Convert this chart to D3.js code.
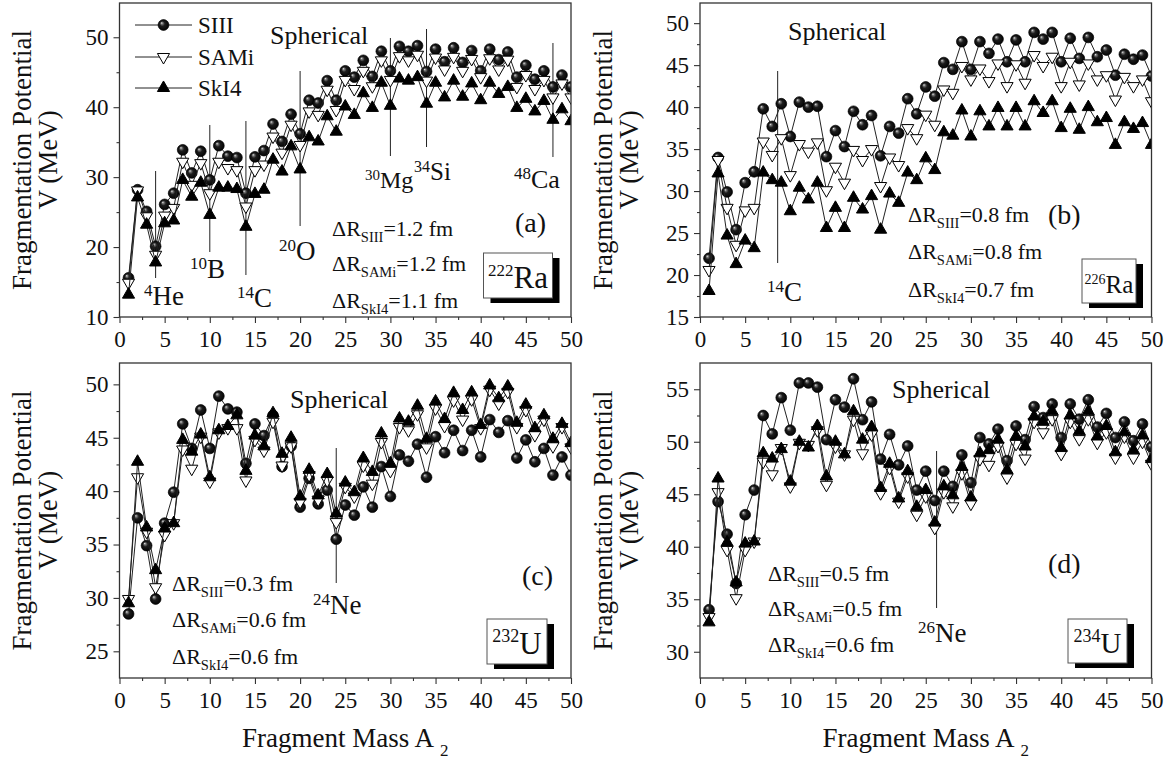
<!DOCTYPE html>
<html>
<head>
<meta charset="utf-8">
<script src="https://cdn.jsdelivr.net/npm/d3@7/dist/d3.min.js"></script>
<style>
  body { margin: 0; background: #fff; }
  text { font-family: "Liberation Serif", "Times New Roman", serif; fill: #111; }
</style>
</head>
<body>
<script>
/* DATA: fragmentation potential V (MeV) vs fragment mass A2 = 1..50 */
var masses = d3.range(1, 51);

// 222Ra
var siiiA = [15.6, 28.2, 25.1, 20.1, 26.1, 27.7, 33.9, 30.6, 33.7, 29.6, 34.5, 33.0, 32.8, 27.7, 32.9, 33.8, 37.6, 35.1, 39.0, 36.2, 41.0, 40.6, 43.8, 41.0, 45.2, 44.3, 46.7, 44.4, 48.0, 45.2, 48.7, 48.0, 48.8, 45.1, 48.3, 46.5, 48.5, 46.4, 48.1, 45.2, 48.3, 46.8, 47.9, 44.3, 46.0, 44.0, 45.2, 42.9, 44.6, 42.9];
var samiA = [14.9, 28.1, 24.4, 18.9, 24.5, 25.6, 32.2, 28.9, 32.0, 27.7, 32.2, 31.3, 31.0, 25.8, 31.0, 31.8, 35.8, 33.5, 37.5, 34.6, 39.4, 38.9, 42.5, 39.6, 43.9, 42.6, 45.2, 43.0, 46.7, 43.9, 47.3, 46.7, 47.5, 43.8, 47.1, 45.4, 47.2, 45.2, 46.9, 44.3, 47.0, 45.4, 46.8, 42.9, 44.6, 42.6, 43.9, 41.4, 43.4, 41.4];
var ski4A = [13.2, 27.1, 23.2, 17.8, 23.4, 23.8, 29.6, 27.2, 29.2, 24.6, 28.5, 28.5, 28.3, 22.9, 27.6, 28.2, 32.5, 30.8, 34.4, 31.1, 35.7, 35.1, 38.7, 36.5, 40.1, 38.9, 42.0, 39.9, 43.5, 40.2, 44.1, 43.8, 44.3, 40.5, 43.5, 41.4, 43.8, 41.5, 43.4, 41.0, 43.5, 41.9, 42.9, 39.9, 41.2, 39.4, 40.9, 38.2, 39.7, 38.0];

// 226Ra
var siiiB = [22.0, 34.0, 29.9, 25.4, 31.0, 32.3, 39.8, 37.7, 40.4, 36.5, 40.6, 40.0, 40.1, 34.1, 37.2, 35.3, 39.5, 37.9, 39.0, 34.2, 37.7, 36.9, 41.0, 39.2, 42.4, 41.3, 45.3, 44.5, 47.8, 44.5, 47.8, 46.4, 48.1, 45.4, 48.0, 45.4, 48.9, 48.1, 48.9, 45.4, 48.2, 45.8, 48.3, 46.0, 46.8, 43.8, 46.3, 45.7, 46.2, 43.7];
var samiB = [20.6, 33.7, 28.0, 23.6, 27.7, 28.0, 35.9, 34.3, 36.3, 31.9, 35.6, 34.7, 35.8, 30.1, 32.9, 31.0, 34.9, 33.7, 35.0, 30.6, 34.0, 33.1, 37.5, 36.3, 39.1, 37.9, 42.1, 41.7, 44.9, 43.3, 44.6, 43.1, 45.2, 42.5, 45.1, 42.9, 46.2, 44.9, 46.0, 42.5, 45.4, 42.7, 45.2, 43.3, 43.8, 40.9, 43.6, 42.5, 43.3, 40.7];
var ski4B = [18.1, 32.1, 24.7, 21.3, 24.1, 23.2, 32.2, 31.3, 31.0, 27.6, 30.4, 29.0, 31.0, 25.6, 28.0, 25.6, 29.2, 27.8, 29.4, 25.4, 29.7, 28.6, 32.2, 31.3, 33.9, 32.5, 37.0, 36.6, 39.6, 36.5, 39.5, 37.7, 39.9, 37.7, 39.9, 37.7, 40.7, 39.3, 40.7, 37.5, 39.8, 37.3, 40.0, 38.2, 38.7, 35.5, 38.2, 37.4, 38.1, 35.5];

// 232U
var siiiC = [28.5, 37.5, 34.9, 29.9, 37.0, 39.9, 46.3, 44.0, 47.6, 44.0, 48.9, 47.7, 47.4, 42.6, 46.3, 45.2, 47.1, 42.3, 44.2, 38.5, 41.2, 38.8, 40.1, 35.5, 38.7, 37.75, 40.4, 38.5, 42.3, 39.5, 43.4, 42.8, 44.4, 41.3, 45.1, 43.6, 45.7, 43.8, 45.7, 43.2, 46.7, 45.5, 46.6, 43.1, 44.8, 42.75, 44.0, 41.5, 43.2, 41.5];
var samiC = [29.9, 41.3, 36.2, 31.0, 35.9, 37.0, 43.9, 42.1, 45.1, 40.9, 45.5, 45.9, 45.9, 41.0, 44.8, 43.8, 46.5, 42.4, 44.2, 39.0, 41.5, 39.2, 41.0, 37.1, 40.4, 39.5, 42.4, 40.7, 44.6, 41.9, 46.0, 45.7, 47.2, 44.1, 47.75, 46.1, 48.5, 46.7, 48.6, 45.9, 49.5, 48.2, 49.3, 46.0, 47.6, 45.25, 46.7, 44.2, 46.0, 44.1];
var ski4C = [29.5, 42.75, 36.6, 32.6, 36.5, 37.0, 44.8, 43.7, 45.3, 41.3, 45.7, 46.1, 47.1, 41.9, 45.2, 44.2, 47.3, 43.5, 45.0, 39.5, 42.0, 39.6, 41.6, 37.9, 40.8, 39.9, 43.1, 41.8, 45.4, 42.6, 46.8, 46.5, 48.0, 44.9, 48.4, 46.75, 49.2, 47.6, 49.25, 46.2, 49.9, 48.7, 49.8, 46.4, 48.1, 45.9, 47.1, 44.9, 46.3, 44.5];

// 234U
var siiiD = [34.0, 44.3, 41.2, 36.5, 43.05, 45.4, 52.5, 50.75, 54.2, 51.1, 55.6, 55.6, 55.2, 50.2, 54.0, 53.3, 56.0, 52.1, 53.8, 48.35, 50.7, 47.8, 49.6, 45.4, 47.2, 44.4, 47.2, 45.75, 48.75, 46.1, 50.4, 49.8, 51.2, 48.2, 51.5, 50.2, 53.35, 52.3, 53.6, 50.4, 53.6, 52.15, 54.0, 51.4, 52.7, 50.4, 51.9, 50.1, 51.7, 49.5];
var samiD = [33.3, 45.2, 39.7, 35.1, 39.7, 40.5, 48.1, 46.9, 49.4, 45.75, 49.9, 49.7, 51.1, 45.9, 49.55, 48.8, 52.1, 48.9, 50.7, 45.1, 47.5, 44.3, 46.7, 43.05, 44.8, 41.8, 45.2, 43.85, 47.0, 44.1, 48.35, 47.8, 49.6, 46.6, 49.8, 48.4, 51.9, 50.9, 52.15, 48.85, 51.9, 50.25, 52.15, 49.9, 50.9, 48.5, 50.5, 48.5, 50.0, 47.9];
var ski4D = [32.8, 46.5, 40.4, 36.6, 40.3, 40.5, 48.9, 48.4, 49.3, 46.2, 50.0, 49.45, 51.5, 46.7, 50.0, 48.8, 52.9, 50.2, 51.4, 45.6, 47.9, 44.6, 47.2, 43.8, 45.4, 42.3, 45.75, 44.9, 47.6, 44.7, 48.9, 49.2, 50.2, 47.3, 50.5, 49.55, 52.4, 51.9, 52.9, 49.4, 52.5, 51.0, 52.9, 50.5, 51.5, 49.0, 50.9, 49.2, 50.6, 48.35];

var seriesNames = ["SIII", "SAMi", "SkI4"];
var panelTags = ["(a)", "(b)", "(c)", "(d)"];
var parentMass = ["222", "226", "232", "234"];
var parentElem = ["Ra", "Ra", "U", "U"];
var dRSIII = ["1.2", "0.8", "0.3", "0.5"];
var dRSAMi = ["1.2", "0.8", "0.6", "0.5"];
var dRSkI4 = ["1.1", "0.7", "0.6", "0.6"];

var xTicks = d3.range(0, 51, 5);
var yTicksA = [10, 20, 30, 40, 50];
var yTicksB = [15, 20, 25, 30, 35, 40, 45, 50];
var yTicksC = [25, 30, 35, 40, 45, 50];
var yTicksD = [30, 35, 40, 45, 50, 55];

// nuclide markers: mass, label sup, label element
var markA = [[4, "4", "He"], [10, "10", "B"], [14, "14", "C"], [20, "20", "O"], [30, "30", "Mg"], [34, "34", "Si"], [48, "48", "Ca"]];
var markB = [[8.6, "14", "C"]];
var markC = [[24, "24", "Ne"]];
var markD = [[26.2, "26", "Ne"]];

/* LAYOUT */
var width = 1176, height = 765;
var pw = 451.5;

var panels = [
  { left: 119.5, top: 3, h: 314, dom: [10, 54.9], ticks: yTicksA, minor: [15, 25, 35, 45], data: [siiiA, samiA, ski4A], marks: markA,
    lines: [[168, 275], [122, 249], [118, 272], [68, 223], [35, 153], [26, 144], [40, 154]],
    labs: [[24.5, 302], [70.5, 275], [117.5, 304], [159.5, 257], [245.5, 185], [294.5, 177], [394.5, 185]],
    labSize: [27, 27, 27, 27, 24, 25, 26],
    sph: [150.5, 41], dR: [212.5, 233, 268, 305], tag: [395.5, 229],
    box: [364, 250, 69, 45], boxSup: 17, boxEl: 31, legend: true },
  { left: 700, top: 3, h: 314, dom: [15, 52.4], ticks: yTicksB, minor: d3.range(17.5, 50, 5), data: [siiiB, samiB, ski4B], marks: markB,
    lines: [[68, 260]], labs: [[67, 298]], labSize: [27],
    sph: [88, 37], dR: [208, 219, 256, 294], tag: [348, 221],
    box: [382, 256, 54, 44], boxSup: 14, boxEl: 25 },
  { left: 119.5, top: 363, h: 315, dom: [22.5, 52], ticks: yTicksC, minor: d3.range(27.5, 50, 5), data: [siiiC, samiC, ski4C], marks: markC,
    lines: [[85, 220]], labs: [[193.5, 251]], labSize: [27],
    sph: [170.5, 45], dR: [52.5, 228, 264, 301], tag: [402.5, 222],
    box: [367.5, 256, 60, 45], boxSup: 18, boxEl: 31, xTitle: true },
  { left: 700, top: 363, h: 315, dom: [27.5, 57.5], ticks: yTicksD, minor: d3.range(32.5, 55, 5), data: [siiiD, samiD, ski4D], marks: markD,
    lines: [[88, 245]], labs: [[218, 279]], labSize: [27],
    sph: [192, 35], dR: [68, 218, 253, 289], tag: [348, 210],
    box: [368, 256, 59, 44], boxSup: 18, boxEl: 29, xTitle: true }
];

var svg = d3.select("body").append("svg")
  .attr("width", width)
  .attr("height", height)
  .attr("font-family", "Liberation Serif, serif");

var defs = svg.append("defs");
var ball = defs.append("radialGradient").attr("id", "ball")
  .attr("cx", "50%").attr("cy", "50%").attr("r", "55%")
  .attr("fx", "32%").attr("fy", "30%");
ball.append("stop").attr("offset", "0%").attr("stop-color", "#f0f0f0");
ball.append("stop").attr("offset", "16%").attr("stop-color", "#7a7a7a");
ball.append("stop").attr("offset", "42%").attr("stop-color", "#1c1c1c");
ball.append("stop").attr("offset", "100%").attr("stop-color", "#000");

var triUp = d3.symbol().type(d3.symbolTriangle).size(64)();

function marker(sel, kind) {
  if (kind === 0) {
    sel.append("circle").attr("r", 5.4).attr("fill", "url(#ball)").attr("stroke", "#000").attr("stroke-width", 0.7);
  } else {
    sel.append("path").attr("d", triUp)
      .attr("transform", kind === 1 ? "rotate(180)" : null)
      .attr("fill", kind === 1 ? "#fff" : "#000")
      .attr("stroke", "#000").attr("stroke-width", 1);
  }
}

function supText(g, x, y, sup, main, supSize, mainSize, rise) {
  var t = g.append("text").attr("x", x).attr("y", y);
  t.append("tspan").attr("font-size", supSize).attr("dy", -rise).text(sup);
  t.append("tspan").attr("font-size", mainSize).attr("dy", rise).text(main);
  return t;
}

function dRText(g, x, y, sub, val) {
  var t = g.append("text").attr("x", x).attr("y", y).attr("font-size", 22);
  t.append("tspan").text("\u0394R");
  t.append("tspan").attr("font-size", 14.5).attr("dy", 5.5).text(sub);
  t.append("tspan").attr("dy", -5.5).text("=" + val + " fm");
}

panels.forEach(function(p, i) {
  var x = d3.scaleLinear().domain([0, 50]).range([0, pw]);
  var y = d3.scaleLinear().domain(p.dom).range([p.h, 0]);
  var g = svg.append("g").attr("transform", "translate(" + p.left + "," + p.top + ")");

  defs.append("clipPath").attr("id", "clip" + i)
    .append("rect").attr("width", pw).attr("height", p.h);

  // axes
  g.append("g").attr("transform", "translate(0," + p.h + ")")
    .call(d3.axisBottom(x).tickValues(xTicks).tickSize(6).tickPadding(8));
  g.append("g").attr("transform", "translate(0," + p.h + ")")
    .call(d3.axisBottom(x).tickValues(d3.range(2.5, 50, 5)).tickSize(3).tickFormat(""));
  g.append("g")
    .call(d3.axisLeft(y).tickValues(p.ticks).tickSize(6).tickPadding(5));
  g.append("g")
    .call(d3.axisLeft(y).tickValues(p.minor).tickSize(3).tickFormat(""));
  g.selectAll(".domain").remove();
  g.selectAll(".tick line").attr("stroke", "#333").attr("stroke-width", 1.1);
  g.selectAll(".tick text").attr("font-size", 23).attr("fill", "#111")
    .attr("font-family", "Liberation Serif, serif");

  // reference lines at nuclide masses
  p.marks.forEach(function(m, k) {
    g.append("line")
      .attr("x1", x(m[0])).attr("x2", x(m[0]))
      .attr("y1", p.lines[k][0]).attr("y2", p.lines[k][1])
      .attr("stroke", "#222").attr("stroke-width", 1);
    var s = p.labSize[k];
    supText(g, p.labs[k][0], p.labs[k][1], m[1], m[2], Math.round(s * 0.64), s, Math.round(s * 0.33));
  });

  // series
  var plot = g.append("g").attr("clip-path", "url(#clip" + i + ")");
  var line = d3.line().x(function(d, j) { return x(masses[j]); }).y(function(d) { return y(d); });
  p.data.forEach(function(vals, s) {
    plot.append("path").datum(vals)
      .attr("d", line)
      .attr("fill", "none")
      .attr("stroke", "#222")
      .attr("stroke-width", 1);
    plot.selectAll(".m" + s).data(vals).enter().append("g")
      .attr("class", "m" + s)
      .attr("transform", function(d, j) { return "translate(" + x(masses[j]) + "," + y(d) + ")"; })
      .each(function() { marker(d3.select(this), s); });
  });

  // frame
  g.append("rect").attr("width", pw).attr("height", p.h)
    .attr("fill", "none").attr("stroke", "#333").attr("stroke-width", 1.3);

  // texts
  g.append("text").attr("x", p.sph[0]).attr("y", p.sph[1]).attr("font-size", 26).text("Spherical");
  dRText(g, p.dR[0], p.dR[1], "SIII", dRSIII[i]);
  dRText(g, p.dR[0], p.dR[2], "SAMi", dRSAMi[i]);
  dRText(g, p.dR[0], p.dR[3], "SkI4", dRSkI4[i]);
  g.append("text").attr("x", p.tag[0]).attr("y", p.tag[1]).attr("font-size", 28).text(panelTags[i]);

  // parent nucleus box with shadow
  var b = p.box;
  g.append("rect").attr("x", b[0] + 7).attr("y", b[1] + 5).attr("width", b[2]).attr("height", b[3]).attr("fill", "#000");
  g.append("rect").attr("x", b[0]).attr("y", b[1]).attr("width", b[2]).attr("height", b[3])
    .attr("fill", "#fff").attr("stroke", "#555").attr("stroke-width", 1);
  supText(g, b[0] + b[2] / 2, b[1] + b[3] * 0.78, parentMass[i], parentElem[i], p.boxSup, p.boxEl, p.boxEl * 0.38)
    .attr("text-anchor", "middle");

  // legend
  if (p.legend) {
    var ly = [22, 54, 85];
    seriesNames.forEach(function(name, s) {
      g.append("line").attr("x1", 15.5).attr("x2", 72.5).attr("y1", ly[s]).attr("y2", ly[s])
        .attr("stroke", "#222").attr("stroke-width", 1);
      var mg = g.append("g").attr("transform", "translate(44," + ly[s] + ")");
      marker(mg, s);
      g.append("text").attr("x", 78.5).attr("y", ly[s]).attr("dy", "0.34em").attr("font-size", 23).text(name);
    });
  }

  // axis titles
  var cy = p.h / 2;
  g.append("text").attr("transform", "translate(-88.5," + cy + ") rotate(-90)")
    .attr("text-anchor", "middle").attr("font-size", 27).text("Fragmentation Potential");
  g.append("text").attr("transform", "translate(-62.5," + cy + ") rotate(-90)")
    .attr("text-anchor", "middle").attr("font-size", 27).text("V (MeV)");
  if (p.xTitle) {
    var xt = g.append("text").attr("x", pw / 2).attr("y", 747 - p.top)
      .attr("text-anchor", "middle").attr("font-size", 27);
    xt.append("tspan").text("Fragment Mass A");
    xt.append("tspan").attr("dx", 6).attr("dy", 9).attr("font-size", 17).text("2");
  }
});
</script>
</body>
</html>
